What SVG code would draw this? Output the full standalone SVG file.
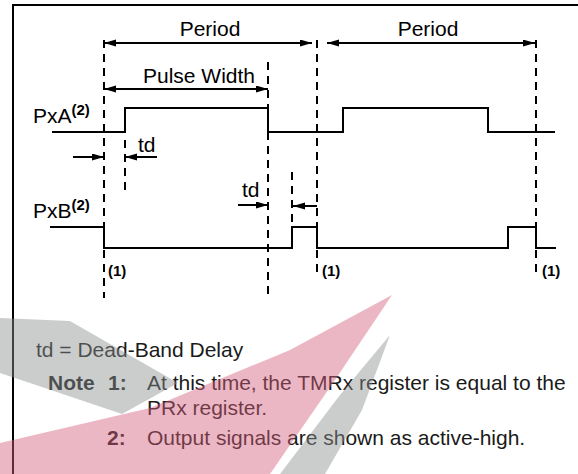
<svg xmlns="http://www.w3.org/2000/svg" width="578" height="474" viewBox="0 0 578 474">
<style>
.txt{font-family:"Liberation Sans",Arial,sans-serif;font-size:21px;fill:#000}
.note{font-family:"Liberation Sans",Arial,sans-serif;font-size:21px;fill:#1a1a1a}
.b{font-weight:bold}
.sup{font-family:"Liberation Sans",Arial,sans-serif;font-size:15px;font-weight:bold;fill:#000}
.lab{font-family:"Liberation Sans",Arial,sans-serif;font-size:15px;font-weight:bold;fill:#000}
.wave{fill:none;stroke:#000;stroke-width:2}
.dash{fill:none;stroke:#000;stroke-width:2;stroke-dasharray:8 6}
.arr{fill:none;stroke:#000;stroke-width:2;marker-end:url(#ah)}
.arr2{fill:none;stroke:#000;stroke-width:2;marker-start:url(#ah);marker-end:url(#ah)}
</style>
<defs>
<marker id="ah" markerUnits="userSpaceOnUse" markerWidth="13" markerHeight="8" refX="12" refY="3.5" orient="auto-start-reverse">
<path d="M0,0 L12,3.5 L0,7 z" fill="#000"/>
</marker>
</defs>
<rect width="578" height="474" fill="#fff"/>
<g id="frame"><path d="M13,474 V5 H578" fill="none" stroke="#000" stroke-width="2"/></g>
<g id="connectors">
<line class="dash" x1="104" y1="40" x2="104" y2="298"/>
<line class="dash" x1="125" y1="140" x2="125" y2="192"/>
<line class="dash" x1="268" y1="62" x2="268" y2="298"/>
<line class="dash" x1="317" y1="40" x2="317" y2="272"/>
<line class="dash" x1="292" y1="172" x2="292" y2="227"/>
<line class="dash" x1="536" y1="40" x2="536" y2="272"/>
<line class="arr2" x1="104" y1="43" x2="312" y2="43"/>
<line class="arr2" x1="327" y1="43" x2="535" y2="43"/>
<line class="arr2" x1="104" y1="89" x2="268" y2="89"/>
<line class="arr" x1="73" y1="157" x2="104" y2="157"/>
<line class="arr" x1="157" y1="157" x2="125" y2="157"/>
<line class="arr" x1="238" y1="205" x2="268" y2="205"/>
<line class="arr" x1="317" y1="206" x2="293" y2="206"/>
</g>
<g id="labels">
<text class="txt" x="210" y="36" text-anchor="middle">Period</text>
<text class="txt" x="428" y="36" text-anchor="middle">Period</text>
<text class="txt" x="199" y="83" text-anchor="middle">Pulse Width</text>
<text class="txt" x="138" y="152">td</text>
<text class="txt" x="242" y="197">td</text>
</g>
<g id="PxA">
<text class="txt" x="33" y="123">PxA<tspan class="sup" dy="-8">(2)</tspan></text>
<path class="wave" d="M52,132 H125 V108 H268 V132 H343 V108 H488 V132 H555"/>
</g>
<g id="PxB">
<text class="txt" x="33" y="218">PxB<tspan class="sup" dy="-8">(2)</tspan></text>
<path class="wave" d="M50,227 H104 V248 H292 V227 H317 V248 H508 V227 H536 V248 H556"/>
</g>
<g id="marks">
<text class="lab" x="108" y="276">(1)</text>
<text class="lab" x="322" y="276">(1)</text>
<text class="lab" x="542" y="276">(1)</text>
</g>
<g id="notes">
<text class="note" x="36" y="357">td = Dead-Band Delay</text>
<text class="note b" x="48" y="390">Note</text>
<text class="note b" x="108" y="390">1:</text>
<text class="note" x="147" y="390">At this time, the TMRx register is equal to the</text>
<text class="note" x="147" y="415">PRx register.</text>
<text class="note b" x="107" y="445">2:</text>
<text class="note" x="147" y="445">Output signals are shown as active-high.</text>
</g>
<g id="watermark">
<polygon points="0,318 70,321 178,383 122,414 30,383 0,373" fill="#8c9090" fill-opacity="0.45"/>
<polygon points="0,443 150,408 290,350 392,295 335,380 270,474 0,474" fill="#d4607c" fill-opacity="0.45"/>
<polygon points="390,335 362,410 325,474 280,474 340,395" fill="#8c9090" fill-opacity="0.45"/>
</g>
</svg>
